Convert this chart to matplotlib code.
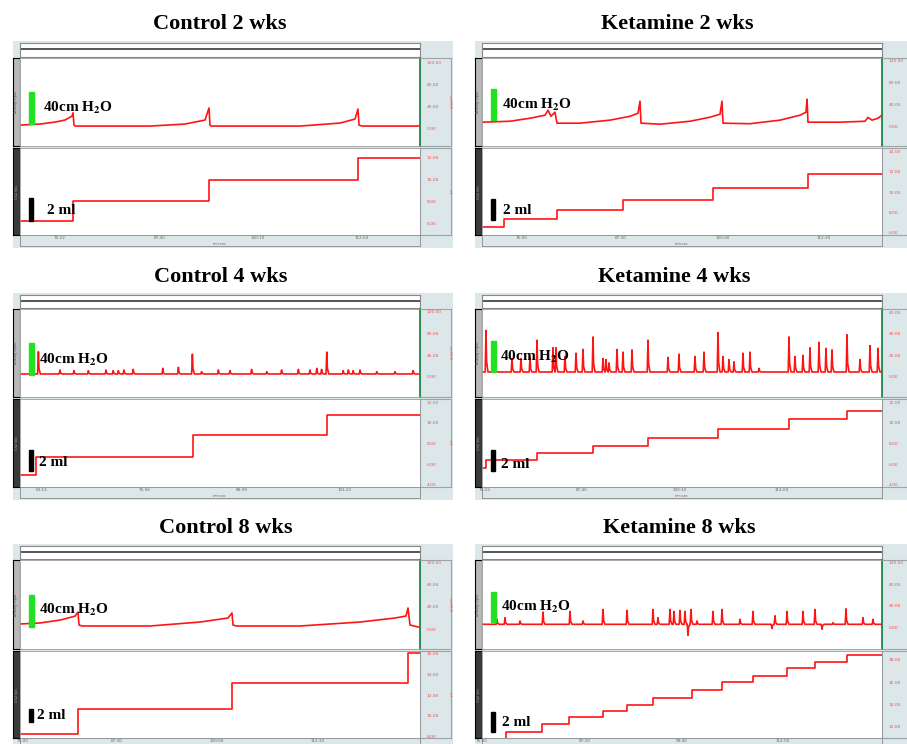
import matplotlib.pyplot as plt
from matplotlib.patches import Rectangle

plt.rcParams['mathtext.fontset'] = 'stix'

W, H = 907, 744
RED = '#ff1414'
FRAME = '#dce7ea'
SERIF = ['Liberation Serif', 'DejaVu Serif']

# ---- Control 2 wks ----
ctrl2_p_t = [0, 5, 8.75, 11.25, 13, 13.25, 13.5, 13.75, 32.5, 41.25, 46.25, 47.25, 47.5, 47.75,
             70, 80, 83.75, 84.5, 84.75, 85.5, 100]
ctrl2_p_v = [5.5, 7.4, 11, 14.8, 22, 28, 5.5, 3.7, 3.7, 7.4, 14.8, 37, 5.5, 3.7,
             3.7, 9.2, 16.6, 35, 5.5, 3.7, 3.7]
ctrl2_vol_t = [0, 13.25, 47.25, 84.5]
ctrl2_vol_v = [6.27, 8.1, 10.0, 12.0]

# ---- Ketamine 2 wks ----
ket2_p_t = [0, 7, 12, 15.75, 16.5, 17.25, 18.25, 18.75, 24.5, 32, 37, 39, 39.5, 39.75, 44.5, 52, 57,
            59.5, 60, 60.25, 67, 74.5, 79.5, 81, 81.25, 81.5, 89.5, 95.75, 96.5, 97.5, 99, 100]
ket2_p_v = [7.3, 9, 14.5, 20, 29, 18, 25.5, 5.5, 5.5, 11, 18, 23.6, 45.5, 5.5, 3.6, 9, 16.4,
            21.8, 45.5, 5.5, 4.5, 11, 20, 25.5, 49, 7.3, 7.3, 9, 16, 11, 14.5, 20]
ket2_vol_t = [0, 5.5, 18.75, 35.25, 57.75, 81.5]
ket2_vol_v = [6.57, 7.4, 8.2, 9.2, 10.4, 11.75]

# ---- Control 4 wks ----
ctrl4_base = 5.5
ctrl4_spike_t = [4.6, 10, 13.5, 17.1, 21.5, 23.3, 24.6, 26, 28.3, 35.7, 39.6, 43.1, 45.4, 49.6, 52.5,
                 57.9, 61.7, 65.4, 69.6, 72.5, 74.2, 75.4, 76.7, 80.8, 82.1, 83.3, 85, 89.2, 93.75, 98.3]
ctrl4_spike_h = [46.7, 12.9, 11.7, 11.7, 12.9, 11.7, 11.7, 12.9, 14.1, 16, 17.8, 42, 9.8, 12.9, 11.7,
                 14.1, 9.8, 12.9, 14.1, 12.9, 16, 14.1, 46, 11.7, 12.9, 11.7, 12.9, 9.8, 9.8, 11.7]
ctrl4_vol_t = [0, 4, 43.25, 76.75]
ctrl4_vol_v = [4.96, 6.7, 8.8, 10.8]

# ---- Ketamine 4 wks ----
ket4_base = 4.6
ket4_spike_t = [1, 7.5, 9.75, 12, 13.75, 17.75, 18.5, 20.75, 23.5, 25.25, 27.75, 30.25, 31, 31.75,
                33.75, 35.25, 37.5, 41.5, 46.5, 49.25, 53.25, 55.5, 59, 60.25, 61.75, 63, 65.25,
                67, 69.25, 76.75, 78.25, 80.25, 82, 84.25, 86, 87.5, 91.25, 94.5, 97, 99]
ket4_spike_h = [43, 17, 17, 18, 34, 27, 27, 19, 22, 25.5, 37, 17, 16, 13,
                25.5, 23, 25, 34, 18, 21, 19, 23, 41, 19, 16, 14, 22,
                23, 8, 37, 19, 20, 27, 32, 26.5, 25, 39, 16, 29, 26.5]
ket4_vol_t = [0, 1, 13.75, 27.75, 41.5, 59, 76.75, 91.25]
ket4_vol_v = [5.64, 6.41, 7.08, 7.76, 8.53, 9.4, 10.36, 11.13]

# ---- Control 8 wks ----
ctrl8_p_t = [0, 5, 10, 13.75, 14.5, 14.75, 15.5, 32.5, 45, 52, 53, 53.25, 54, 70, 85, 93.75,
             96.5, 97, 97.5, 99.5, 100]
ctrl8_p_v = [9, 10.8, 16, 23, 30.5, 7.2, 5.4, 5.4, 12.5, 19.7, 28.7, 7.2, 5.4, 5.4, 12.5, 19.7,
             23.3, 37.6, 7.2, 3.6, 3.6]
ctrl8_vol_t = [0, 14.5, 53, 97]
ctrl8_vol_v = [8.29, 10.67, 13.14, 16.0]

# ---- Ketamine 8 wks ----
ket8_base = 5.5
ket8_spike_t = [3.75, 5.75, 9.5, 15.25, 22, 25.25, 30.25, 36.25, 42.75, 44, 47, 48, 49.5, 50.75,
                51.5, 52.25, 53.75, 57.75, 60, 64.5, 67.75, 72.5, 73.25, 76.25, 80.25, 83.25, 85,
                87.75, 91, 95.25, 97.75]
ket8_spike_h = [14.8, 17.8, 11.7, 28.3, 29.5, 11.7, 33.2, 31.4, 33.2, 17.8, 33.2, 29.5, 31.4, 29.5,
                -15, 33.2, 11.7, 29.5, 33.2, 14.8, 29.5, -2.5, 21.4, 29.5, 29.5, 33.2, -3.7,
                8.6, 34.4, 17.8, 14.8]
ket8_vol_t = [0, 6, 15, 21.75, 30.25, 36.25, 42.75, 52.5, 60, 67.75, 76.25, 83.25, 91.25]
ket8_vol_v = [10.8, 11.55, 12.27, 12.9, 13.45, 14.0, 14.55, 15.3, 16.0, 16.6, 17.3, 17.8, 18.4]


def spikes_to_trace(base, spike_t, spike_h):
    t, v = [0], [base]
    for st, sh in zip(spike_t, spike_h):
        t += [st - 0.2, st, st + 0.15, st + 0.5]
        v += [base, sh, base + (sh - base) * 0.25, base]
    t.append(100)
    v.append(base)
    return t, v


def box(x0, y0, x1, y1):
    return [x0 / W, 1 - y1 / H, (x1 - x0) / W, (y1 - y0) / H]


def blank(ax, fc):
    ax.set_facecolor(fc)
    ax.set_xticks([])
    ax.set_yticks([])


ctrl4_p_t, ctrl4_p_v = spikes_to_trace(ctrl4_base, ctrl4_spike_t, ctrl4_spike_h)
ket4_p_t, ket4_p_v = spikes_to_trace(ket4_base, ket4_spike_t, ket4_spike_h)
ket8_p_t, ket8_p_v = spikes_to_trace(ket8_base, ket8_spike_t, ket8_spike_h)

cols = {'L': (13, 20, 420, 453), 'R': (475, 482, 882, 920)}
rows = {1: (24, 43, 58, 146, 148, 235, 247),
        2: (277, 295, 309, 397, 399, 487, 499),
        3: (528, 546, 560, 649, 651, 738, 750)}

panels = [
    dict(title='Control 2 wks', col='L', row=1, tx=220, pt=ctrl2_p_t, pv=ctrl2_p_v,
         vt=ctrl2_vol_t, vv=ctrl2_vol_v, plim=(-33, 129), vlim=(5.0, 12.9),
         pticks=[0, 40, 80, 120], vticks=[6, 8, 10, 12],
         green=(0.25, 0.614), black=(0.161, 0.425), ptxt=(0.0575, 0.43), vtxt=(0.0675, 0.287),
         times=[10, 35, 59.5, 85.5], tlabels=['75:22', '87:40', '100:10', '112:04']),
    dict(title='Ketamine 2 wks', col='R', row=1, tx=677, pt=ket2_p_t, pv=ket2_p_v,
         vt=ket2_vol_t, vv=ket2_vol_v, plim=(-36, 124), vlim=(5.8, 14.3),
         pticks=[0, 40, 80, 120], vticks=[6, 8, 10, 12, 14],
         green=(0.295, 0.648), black=(0.172, 0.414), ptxt=(0.05, 0.466), vtxt=(0.0525, 0.287),
         times=[10, 34.75, 60.25, 85.5], tlabels=['75:00', '87:30', '100:00', '112:30']),
    dict(title='Control 4 wks', col='L', row=2, tx=221, pt=ctrl4_p_t, pv=ctrl4_p_v,
         vt=ctrl4_vol_t, vv=ctrl4_vol_v, plim=(-37, 125.5), vlim=(3.8, 12.3),
         pticks=[0, 40, 80, 120], vticks=[4, 6, 8, 10, 12],
         green=(0.25, 0.614), black=(0.182, 0.42), ptxt=(0.0475, 0.42), vtxt=(0.0475, 0.284),
         times=[5.5, 31.25, 55.5, 81.25], tlabels=['63:13', '75:56', '88:39', '101:22']),
    dict(title='Ketamine 4 wks', col='R', row=2, tx=674, pt=ket4_p_t, pv=ket4_p_v,
         vt=ket4_vol_t, vv=ket4_vol_v, plim=(-18.5, 62.8), vlim=(3.8, 12.3),
         pticks=[0, 20, 40, 60], vticks=[4, 6, 8, 10, 12],
         green=(0.284, 0.636), black=(0.182, 0.42), ptxt=(0.045, 0.455), vtxt=(0.0475, 0.25),
         times=[0.75, 25, 49.5, 75], tlabels=['75:22', '87:40', '100:10', '112:04']),
    dict(title='Control 8 wks', col='L', row=3, tx=226, pt=ctrl8_p_t, pv=ctrl8_p_v,
         vt=ctrl8_vol_t, vv=ctrl8_vol_v, plim=(-35.8, 123.6), vlim=(7.9, 16.2),
         pticks=[0, 40, 80, 120], vticks=[8, 10, 12, 14, 16],
         green=(0.247, 0.607), black=(0.184, 0.333), ptxt=(0.0475, 0.44), vtxt=(0.0425, 0.264),
         times=[0.75, 24.25, 49.25, 74.5], tlabels=['75:00', '87:30', '100:00', '112:30']),
    dict(title='Ketamine 8 wks', col='R', row=3, tx=679, pt=ket8_p_t, pv=ket8_p_v,
         vt=ket8_vol_t, vv=ket8_vol_v, plim=(-40.6, 125.5), vlim=(11.0, 18.8),
         pticks=[0, 40, 80, 120], vticks=[12, 14, 16, 18],
         green=(0.30, 0.644), black=(0.07, 0.30), ptxt=(0.0475, 0.467), vtxt=(0.05, 0.174),
         times=[0, 25.75, 50, 75.25], tlabels=['75:00', '87:20', '99:40', '112:00']),
]

fig = plt.figure(figsize=(W / 100, H / 100), dpi=100)
fig.patch.set_facecolor('white')

for p in panels:
    fl, pl, pr, fr = cols[p['col']]
    ty, s0, u0, u1, l0, l1, a1 = rows[p['row']]

    fig.text(p['tx'] / W, 1 - ty / H, p['title'], ha='center', va='center',
             fontsize=16, fontweight='bold', family=SERIF)

    # outer software frame
    bg = fig.add_axes(box(fl, s0 - 2, fr, a1 + 1))
    blank(bg, FRAME)
    for s in bg.spines.values():
        s.set_visible(False)

    # right label strips
    for y0, y1 in [(u0, u1), (l0, l1)]:
        st = fig.add_axes(box(pr, y0, fr - 2, y1))
        blank(st, FRAME)
        for s in st.spines.values():
            s.set_color('#9aa5a8')
            s.set_linewidth(0.8)

    # left channel bars
    lb = fig.add_axes(box(fl, u0, pl, u1))
    blank(lb, '#b8b8b8')
    lb.text(0.5, 0.5, 'Analog input', rotation=90, ha='center', va='center', fontsize=2.5,
            color='#555555')
    lb2 = fig.add_axes(box(fl, l0, pl, l1))
    blank(lb2, '#3a3a3a')
    lb2.text(0.5, 0.5, 'Ch2 Vol.', rotation=90, ha='center', va='center', fontsize=2.5,
             color='#aaaaaa')

    # top strip
    ts = fig.add_axes(box(pl, s0, pr, u0 - 1))
    blank(ts, 'white')
    for s in ts.spines.values():
        s.set_color('#888888')
        s.set_linewidth(0.8)
    ts.axhline(0.55, color='#555555', lw=1.4)

    # pressure trace
    ax = fig.add_axes(box(pl, u0, pr, u1))
    ax.plot(p['pt'], p['pv'], color=RED, lw=1.2)
    ax.set_xlim(0, 100)
    ax.set_ylim(*p['plim'])
    ax.set_xticks([])
    ax.yaxis.tick_right()
    ax.set_yticks(p['pticks'], ['%.2f' % v for v in p['pticks']])
    ax.tick_params(axis='y', length=0, pad=5, labelsize=3.2, labelcolor='#ee5555')
    for s in ax.spines.values():
        s.set_color('#999999')
        s.set_linewidth(0.6)
    ax.spines['right'].set_color('#1f8a4c')
    ax.spines['right'].set_linewidth(1.3)
    if p['col'] == 'L':
        ax.text(1.075, 0.5, 'cmH$_2$O', transform=ax.transAxes, rotation=270, ha='center',
                va='center', fontsize=2.8, color='#ee5555')
    ax.add_patch(Rectangle((0.0225, p['green'][0]), 0.0125, p['green'][1] - p['green'][0],
                           transform=ax.transAxes, color='#22e022', zorder=3))
    ax.text(p['ptxt'][0], p['ptxt'][1], '40cm H$_\\mathbf{2}$O', transform=ax.transAxes,
            ha='left', va='center', fontsize=11, fontweight='bold', family=SERIF, zorder=4)

    # volume trace
    av = fig.add_axes(box(pl, l0, pr, l1))
    av.step(p['vt'] + [100], p['vv'] + [p['vv'][-1]], where='post', color=RED, lw=1.2)
    av.set_xlim(0, 100)
    av.set_ylim(*p['vlim'])
    av.set_xticks([])
    av.yaxis.tick_right()
    av.set_yticks(p['vticks'], ['%.2f' % v for v in p['vticks']])
    av.tick_params(axis='y', length=0, pad=5, labelsize=3.2, labelcolor='#ee5555')
    for s in av.spines.values():
        s.set_color('#999999')
        s.set_linewidth(0.6)
    if p['col'] == 'L':
        av.text(1.075, 0.5, 'ml', transform=av.transAxes, rotation=270, ha='center',
                va='center', fontsize=2.8, color='#ee5555')
    av.add_patch(Rectangle((0.0225, p['black'][0]), 0.01, p['black'][1] - p['black'][0],
                           transform=av.transAxes, color='black', zorder=3))
    av.text(p['vtxt'][0], p['vtxt'][1], '2 ml', transform=av.transAxes, ha='left',
            va='center', fontsize=11, fontweight='bold', family=SERIF, zorder=4)

    # time axis
    at = fig.add_axes(box(pl, l1, pr, a1 - 1))
    blank(at, FRAME)
    at.set_xlim(0, 100)
    at.set_ylim(0, 1)
    for s in at.spines.values():
        s.set_color('#888888')
        s.set_linewidth(0.6)
    for tt, lab in zip(p['times'], p['tlabels']):
        at.text(tt, 0.7, lab, ha='center', va='center', fontsize=3, color='#666666')
    if p['row'] != 3:
        at.text(50, 0.2, 'min:sec', ha='center', va='center', fontsize=2.5, color='#666666')

fig.savefig('out.png', dpi=100)
